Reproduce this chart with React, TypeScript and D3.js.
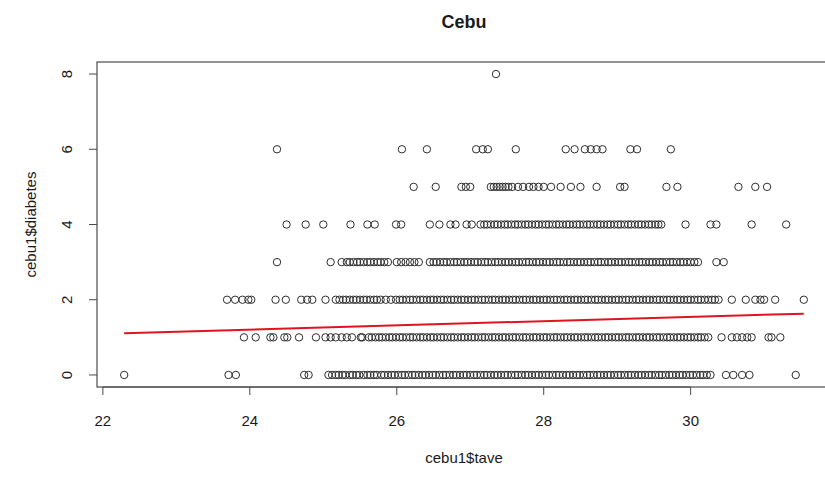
import React from "react";
import * as d3 from "d3";

// ---- data ----
const xTicks = [22, 24, 26, 28, 30];
const yTicks = [0, 2, 4, 6, 8];

const diab0 = [22.29, 23.71, 23.81, 24.74, 24.8, 25.07,
  25.12, 25.17, 25.21, 25.26, 25.3, 25.36, 25.4, 25.45, 25.49, 25.55, 25.6, 25.64, 25.69, 25.73, 25.79, 25.83, 25.88, 25.93, 25.97, 26.02, 26.07, 26.11, 26.16, 26.21, 26.25, 26.3, 26.35, 26.39, 26.44, 26.49, 26.53, 26.58, 26.63, 26.67, 26.72, 26.77, 26.81, 26.86, 26.91, 26.95, 27.0, 27.05, 27.09, 27.14, 27.19, 27.23, 27.28, 27.33, 27.37, 27.42, 27.47, 27.51, 27.56, 27.61, 27.65, 27.7, 27.75, 27.79, 27.84, 27.89, 27.93, 27.98, 28.03, 28.07, 28.12, 28.17, 28.21, 28.26, 28.31, 28.35, 28.4, 28.45, 28.49, 28.54, 28.59, 28.63, 28.68, 28.73, 28.77, 28.82, 28.87, 28.91, 28.96, 29.01, 29.05, 29.1, 29.15, 29.19, 29.24, 29.29, 29.33, 29.38, 29.43, 29.47, 29.52, 29.57, 29.61, 29.66, 29.71, 29.75, 29.8, 29.85, 29.89, 29.94, 29.99, 30.03, 30.08, 30.13, 30.17, 30.22, 30.27,
  30.48, 30.58, 30.7, 30.8, 31.43];

const diab1 = [23.92, 24.08, 24.28, 24.32, 24.47, 24.51, 24.67, 24.9, 25.03, 25.1, 25.17, 25.25, 25.32, 25.39, 25.51, 25.53,
  25.62, 25.66, 25.71, 25.76, 25.8, 25.85, 25.9, 25.94, 25.99, 26.04, 26.08, 26.13, 26.18, 26.22, 26.27, 26.32, 26.36, 26.41, 26.46, 26.5, 26.55, 26.6, 26.64, 26.69, 26.74, 26.78, 26.83, 26.88, 26.92, 26.97, 27.02, 27.06, 27.11, 27.16, 27.2, 27.25, 27.3, 27.34, 27.39, 27.44, 27.48, 27.53, 27.58, 27.62, 27.67, 27.72, 27.76, 27.81, 27.86, 27.9, 27.95, 28.0, 28.04, 28.09, 28.14, 28.18, 28.23, 28.28, 28.32, 28.37, 28.42, 28.46, 28.51, 28.56, 28.6, 28.65, 28.7, 28.74, 28.79, 28.84, 28.88, 28.93, 28.98, 29.02, 29.07, 29.12, 29.16, 29.21, 29.26, 29.3, 29.35, 29.4, 29.44, 29.49, 29.54, 29.58, 29.63, 29.68, 29.72, 29.77, 29.82, 29.86, 29.91, 29.96, 30.0, 30.05, 30.1, 30.14, 30.19, 30.24,
  30.42, 30.56, 30.63, 30.7, 30.77, 30.83, 31.06, 31.1, 31.22];

const diab2 = [23.69, 23.8, 23.9, 23.98, 24.02, 24.35, 24.49, 24.7, 24.78, 24.85, 25.03,
  25.17, 25.22, 25.27, 25.31, 25.36, 25.41, 25.45, 25.5, 25.55, 25.59, 25.64, 25.69, 25.73, 25.78, 25.85, 25.92,
  25.99, 26.04, 26.08, 26.13, 26.18, 26.22, 26.27, 26.32, 26.36, 26.41, 26.46, 26.5, 26.55, 26.6, 26.64, 26.69, 26.74, 26.78, 26.83, 26.88, 26.92, 26.97, 27.02, 27.06, 27.11, 27.16, 27.2, 27.25, 27.3, 27.34, 27.39, 27.44, 27.48, 27.53, 27.58, 27.62, 27.67, 27.72, 27.76, 27.81, 27.86, 27.9, 27.95, 28.0, 28.04, 28.09, 28.14, 28.18, 28.23, 28.28, 28.32, 28.37, 28.42, 28.46, 28.51, 28.56, 28.6, 28.65, 28.7, 28.74, 28.79, 28.84, 28.88, 28.93, 28.98, 29.02, 29.07, 29.12, 29.16, 29.21, 29.26, 29.3, 29.35, 29.4, 29.44, 29.49, 29.54, 29.58, 29.63, 29.68, 29.72, 29.77, 29.82, 29.86, 29.91, 29.96, 30.0, 30.05, 30.1, 30.14, 30.19, 30.24, 30.29, 30.33, 30.38,
  30.56, 30.75, 30.88, 30.95, 31.0, 31.15, 31.54];

const diab3 = [24.37, 25.1, 25.25,
  25.32, 25.36, 25.41, 25.46, 25.5, 25.55, 25.6, 25.64, 25.69, 25.74, 25.78, 25.83, 25.88,
  26.0, 26.06, 26.12, 26.18, 26.24, 26.3,
  26.45, 26.5, 26.54, 26.59, 26.64, 26.68, 26.73, 26.78, 26.82, 26.87, 26.92, 26.96, 27.01, 27.06, 27.1, 27.15, 27.2, 27.24, 27.29, 27.34, 27.38, 27.43, 27.48, 27.52, 27.57, 27.62, 27.66, 27.71, 27.76, 27.8, 27.85, 27.9, 27.94, 27.99, 28.04, 28.08, 28.13, 28.18, 28.22, 28.27, 28.32, 28.36, 28.41, 28.46, 28.5, 28.55, 28.6, 28.64, 28.69, 28.74, 28.78, 28.83, 28.88, 28.92, 28.97, 29.02, 29.06, 29.11, 29.16, 29.2, 29.25, 29.3, 29.34, 29.39, 29.44, 29.48, 29.53, 29.58, 29.62, 29.67, 29.72, 29.76, 29.81, 29.86, 29.9, 29.95, 30.0, 30.05, 30.1,
  30.35, 30.45];

const diab4 = [24.5, 24.76, 25.0, 25.37, 25.6, 25.7, 25.99, 26.06, 26.45, 26.58, 26.73, 26.8, 26.95, 27.02,
  27.14, 27.19, 27.23, 27.28, 27.33, 27.37, 27.42, 27.47, 27.51, 27.56, 27.61, 27.65, 27.7, 27.75, 27.79, 27.84, 27.89, 27.93, 27.98, 28.03, 28.07, 28.12, 28.17, 28.21, 28.26, 28.31, 28.35, 28.4, 28.45, 28.49, 28.54, 28.59, 28.63, 28.68, 28.73, 28.77, 28.82, 28.87, 28.91, 28.96, 29.01, 29.05, 29.1, 29.15, 29.19, 29.24, 29.29, 29.33, 29.38, 29.43, 29.47, 29.52, 29.56,
  29.6, 29.93, 30.27, 30.35, 30.83, 31.3];

const diab5 = [26.23, 26.53, 26.88, 26.94, 27.0, 27.28, 27.32, 27.36, 27.4, 27.44, 27.48, 27.52, 27.57, 27.65, 27.72, 27.8, 27.86, 27.93, 28.0,
  28.1, 28.23, 28.37, 28.5, 28.72, 29.04, 29.1, 29.67, 29.82, 30.65, 30.88, 31.04];

const diab6 = [24.37, 26.07, 26.41, 27.08, 27.17, 27.24, 27.62, 28.3, 28.42, 28.56, 28.64, 28.72, 28.8, 29.18, 29.27, 29.73];

const diab8 = [27.35];

const fitX = [22.29, 31.54];
const fitY = [1.11, 1.63];

const rows: { y: number; xs: number[] }[] = [
  { y: 0, xs: diab0 },
  { y: 1, xs: diab1 },
  { y: 2, xs: diab2 },
  { y: 3, xs: diab3 },
  { y: 4, xs: diab4 },
  { y: 5, xs: diab5 },
  { y: 6, xs: diab6 },
  { y: 8, xs: diab8 },
];

export default function App() {
  const W = 825, H = 477;
  const left = 97, right = 831, top = 62, bottom = 387;
  const allX = rows.flatMap((r) => r.xs);
  const [xmin, xmax] = d3.extent(allX) as [number, number];
  const xpad = (xmax - xmin) * 0.04;
  const x = d3.scaleLinear().domain([xmin - xpad, xmax + xpad]).range([left, right]);
  const y = d3.scaleLinear().domain([-0.32, 8.32]).range([bottom, top]);
  const line = d3.line<number>().x((d, i) => x(fitX[i])).y((d, i) => y(fitY[i]));
  const font = "'Liberation Sans', Arial, Helvetica, sans-serif";
  const axisCol = "#4a4a4a";
  const txt = "#1a1a1a";

  return (
    <svg width={W} height={H} style={{ position: "absolute", left: 0, top: 0, background: "#fff" }} fontFamily={font}>
      <rect x={0} y={0} width={W} height={H} fill="#fff" />
      <text x={(left + right) / 2} y={28} textAnchor="middle" fontWeight="bold" fontSize={18} fill={txt}>Cebu</text>
      {/* points */}
      <g fill="none" stroke="#2e2e2e" strokeWidth={1}>
        {rows.flatMap((r) =>
          r.xs.map((v, i) => <circle key={r.y + "-" + i} cx={x(v)} cy={y(r.y)} r={3.7} />)
        )}
      </g>
      {/* fit line */}
      <path d={line(fitX) || ""} stroke="#e0141e" strokeWidth={2} fill="none" />
      {/* box */}
      <rect x={left} y={top} width={right - left} height={bottom - top} fill="none" stroke={axisCol} strokeWidth={1.2} />
      {/* x axis */}
      <g stroke={axisCol} strokeWidth={1}>
        <line x1={x(xTicks[0])} x2={x(xTicks[xTicks.length - 1])} y1={bottom} y2={bottom} />
        {xTicks.map((t) => (
          <line key={t} x1={x(t)} x2={x(t)} y1={bottom} y2={bottom + 8} />
        ))}
      </g>
      {xTicks.map((t) => (
        <text key={t} x={x(t)} y={426} textAnchor="middle" fontSize={15} fill={txt}>{t}</text>
      ))}
      {/* y axis */}
      <g stroke={axisCol} strokeWidth={1}>
        {yTicks.map((t) => (
          <line key={t} x1={left - 8} x2={left} y1={y(t)} y2={y(t)} />
        ))}
      </g>
      {yTicks.map((t) => (
        <text key={t} transform={`translate(${72},${y(t)}) rotate(-90)`} textAnchor="middle" fontSize={15} fill={txt}>{t}</text>
      ))}
      <text x={(left + right) / 2} y={463} textAnchor="middle" fontSize={15} fill={txt}>cebu1$tave</text>
      <text transform={`translate(${36},${(top + bottom) / 2}) rotate(-90)`} textAnchor="middle" fontSize={15} fill={txt}>cebu1$diabetes</text>
    </svg>
  );
}
